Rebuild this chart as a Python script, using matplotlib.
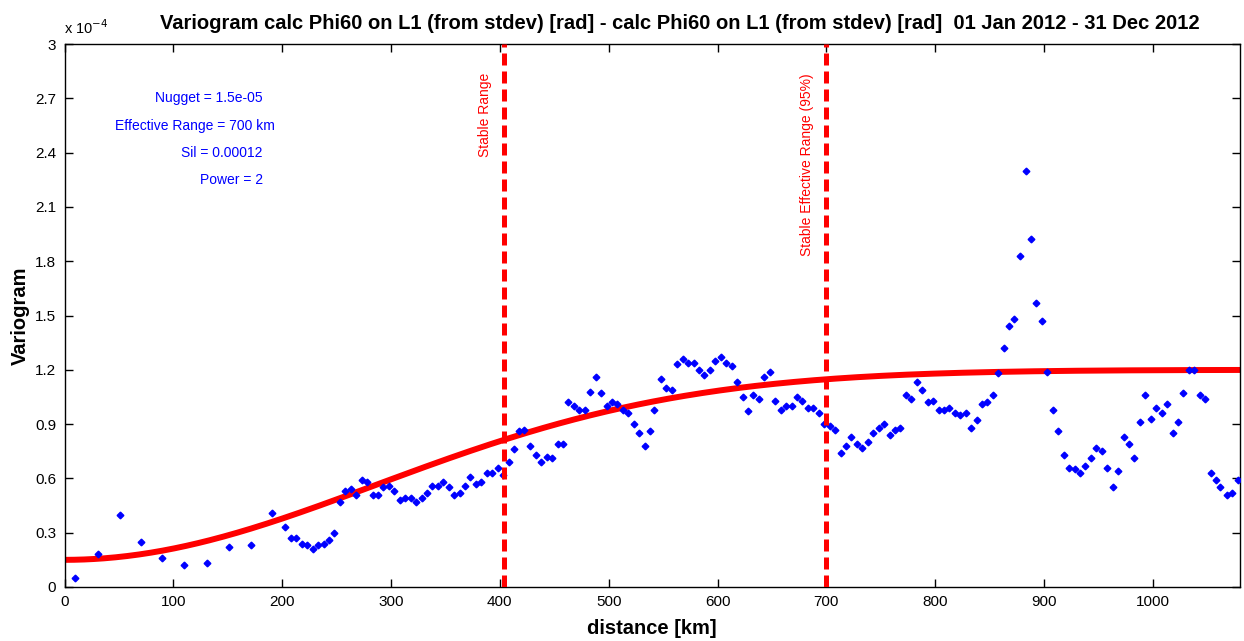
import numpy as np
import matplotlib
matplotlib.use("Agg")
import matplotlib.pyplot as plt

plt.rcParams['font.family'] = ['Liberation Sans', 'DejaVu Sans']

# ---- data (variogram in units of 1e-4) ----
distance_km = [10, 31, 51, 70, 90, 110, 131, 151, 171, 191,
               203, 208, 213, 218, 223, 228, 233, 238, 243, 248,
               253, 258, 263, 268, 273, 278, 283, 288, 293, 298,
               303, 308, 313, 318, 323, 328, 333, 338, 343, 348,
               353, 358, 363, 368, 373, 378, 383, 388, 393, 398,
               403, 408, 413, 418, 422, 428, 433, 438, 443, 448,
               453, 458, 463, 468, 473, 478, 483, 488, 493, 498,
               503, 508, 513, 518, 523, 528, 533, 538, 542, 548,
               553, 558, 563, 568, 573, 578, 583, 588, 593, 598,
               603, 608, 613, 618, 623, 628, 633, 638, 643, 648,
               653, 658, 663, 668, 673, 678, 683, 688, 693, 698,
               703, 708, 713, 718, 723, 728, 733, 738, 743, 748,
               753, 758, 763, 768, 773, 778, 783, 788, 793, 798,
               803, 808, 813, 818, 823, 828, 833, 838, 843, 848,
               853, 858, 863, 868, 872, 878, 883, 888, 893, 898,
               903, 908, 913, 918, 923, 928, 933, 938, 943, 948,
               953, 958, 963, 968, 973, 978, 983, 988, 993, 998,
               1003, 1008, 1013, 1018, 1023, 1028, 1033, 1038, 1043, 1048,
               1053, 1058, 1062, 1068, 1073, 1078]
variogram_e4 = [0.05, 0.18, 0.40, 0.25, 0.16, 0.12, 0.13, 0.22, 0.23, 0.41,
                0.33, 0.27, 0.27, 0.24, 0.23, 0.21, 0.23, 0.24, 0.26, 0.30,
                0.47, 0.53, 0.54, 0.51, 0.59, 0.58, 0.51, 0.51, 0.55, 0.56,
                0.53, 0.48, 0.49, 0.49, 0.47, 0.49, 0.52, 0.56, 0.56, 0.58,
                0.55, 0.51, 0.52, 0.56, 0.61, 0.57, 0.58, 0.63, 0.63, 0.66,
                0.62, 0.69, 0.76, 0.86, 0.87, 0.78, 0.73, 0.69, 0.72, 0.71,
                0.79, 0.79, 1.02, 1.00, 0.98, 0.98, 1.08, 1.16, 1.07, 1.00,
                1.02, 1.01, 0.98, 0.96, 0.90, 0.85, 0.78, 0.86, 0.98, 1.15,
                1.10, 1.09, 1.23, 1.26, 1.24, 1.24, 1.20, 1.17, 1.20, 1.25,
                1.27, 1.24, 1.22, 1.13, 1.05, 0.97, 1.06, 1.04, 1.16, 1.19,
                1.03, 0.98, 1.00, 1.00, 1.05, 1.03, 0.99, 0.99, 0.96, 0.90,
                0.89, 0.87, 0.74, 0.78, 0.83, 0.79, 0.77, 0.80, 0.85, 0.88,
                0.90, 0.84, 0.87, 0.88, 1.06, 1.04, 1.13, 1.09, 1.02, 1.03,
                0.98, 0.98, 0.99, 0.96, 0.95, 0.96, 0.88, 0.92, 1.01, 1.02,
                1.06, 1.18, 1.32, 1.44, 1.48, 1.83, 2.30, 1.92, 1.57, 1.47,
                1.19, 0.98, 0.86, 0.73, 0.66, 0.65, 0.63, 0.67, 0.71, 0.77,
                0.75, 0.66, 0.55, 0.64, 0.83, 0.79, 0.71, 0.91, 1.06, 0.93,
                0.99, 0.96, 1.01, 0.85, 0.91, 1.07, 1.20, 1.20, 1.06, 1.04,
                0.63, 0.59, 0.55, 0.51, 0.52, 0.59]

# model parameters (shown on the chart)
nugget = 1.5e-05
sill = 0.00012
eff_range = 700.0
power = 2
stable_range = eff_range / np.sqrt(3)

x_ticks = [0, 100, 200, 300, 400, 500, 600, 700, 800, 900, 1000]
y_ticks = [0, 0.3, 0.6, 0.9, 1.2, 1.5, 1.8, 2.1, 2.4, 2.7, 3]

title = ("Variogram calc Phi60 on L1 (from stdev) [rad] - calc Phi60 on L1 "
         "(from stdev) [rad]  01 Jan 2012 - 31 Dec 2012")

# ---- figure ----
fig = plt.figure(figsize=(12.44, 6.41), dpi=100)
ax = fig.add_axes([64.5 / 1244, 1 - 587 / 641, (1240 - 64.5) / 1244, (587 - 44) / 641])

h = np.linspace(0, 1080, 600)
model = (nugget + (sill - nugget) * (1 - np.exp(-3 * (h / eff_range) ** power))) * 1e4
ax.plot(h, model, color='red', lw=4.3, solid_capstyle='butt', zorder=2)

ax.plot(distance_km, variogram_e4, ls='none', marker='D', ms=3.4,
        mfc='blue', mec='blue', zorder=3)

for xv in (stable_range, eff_range):
    ax.axvline(xv, color='red', lw=3.6, dashes=(2.4, 1.2), zorder=4)

ax.text(stable_range - 17.5, 2.84, 'Stable Range', rotation=90, color='red',
        fontsize=10, ha='center', va='top')
ax.text(eff_range - 18, 2.84, 'Stable Effective Range (95%)', rotation=90,
        color='red', fontsize=10, ha='center', va='top')

blue_texts = [("Nugget = 1.5e-05", 263, 98), ("Effective Range = 700 km", 275, 126),
              ("Sil = 0.00012", 263, 153), ("Power = 2", 263, 180)]
for s, px, py in blue_texts:
    ax.text((px - 64.5) / 1.0885, (587 - py) / 181.0, s, color='blue',
            fontsize=10, ha='right', va='center')

ax.set_xlim(0, 1080)
ax.set_ylim(0, 3)
ax.set_xticks(x_ticks)
ax.set_yticks(y_ticks)
ax.set_yticklabels(['%g' % v for v in y_ticks])
ax.tick_params(direction='in', length=6, width=1, top=True, right=True,
               labelsize=11, pad=6)
for sp in ax.spines.values():
    sp.set_linewidth(1)

ax.set_xlabel('distance [km]', fontsize=14.5, fontweight='bold', labelpad=7)
ax.set_ylabel('Variogram', fontsize=14.5, fontweight='bold', labelpad=4)
ax.set_title(title, fontsize=14.5, fontweight='bold', x=0.5236, pad=11)
ax.text(0.0, 1.012, r'x 10$^{-4}$', transform=ax.transAxes, fontsize=10.5,
        ha='left', va='bottom')

fig.savefig('out.png', dpi=100)
